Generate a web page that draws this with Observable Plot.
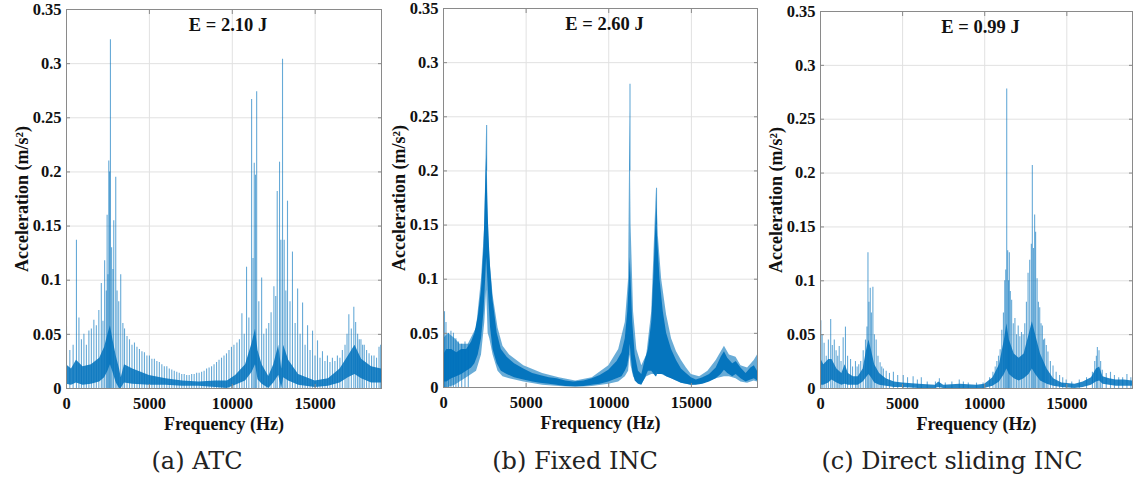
<!DOCTYPE html>
<html><head><meta charset="utf-8">
<script src="https://cdn.jsdelivr.net/npm/d3@7"></script>
<script src="https://cdn.jsdelivr.net/npm/@observablehq/plot@0.6"></script>
<style>
body{margin:0;background:#fff;}
#fig{position:relative;width:1133px;height:480px;overflow:hidden;background:#fff;}
.panel{position:absolute;top:0;}
.cap{position:absolute;top:448px;font-family:'DejaVu Serif',serif;font-size:24px;line-height:26px;transform:translateX(-50%);white-space:nowrap;color:#222;}
</style></head><body><div id="fig"></div>
<script>
// ---- axes / text ----
const xTicks = [0, 5000, 10000, 15000];
const yTicks = [0, 0.05, 0.1, 0.15, 0.2, 0.25, 0.3, 0.35];
const titles = ["E = 2.10 J", "E = 2.60 J", "E = 0.99 J"];
const captions = ["(a) ATC", "(b) Fixed INC", "(c) Direct sliding INC"];

// ---- (a) ATC : noisy floor band [f, lo, hi] and spikes [f, a] ----
const atcBand = [[0,0.004,0.022],[300,0.003,0.018],[600,0.005,0.026],[1000,0.003,0.02],[1500,0.004,0.022],[2000,0.006,0.028],[2300,0.01,0.038],[2500,0.016,0.05],[2650,0.022,0.058],[2800,0.015,0.045],[3000,0.005,0.03],[3200,0,0.018],[3300,0,0.01],[3500,0.005,0.022],[4000,0.004,0.018],[5000,0.003,0.012],[6000,0.003,0.009],[7000,0.002,0.007],[8000,0.002,0.006],[9000,0.001,0.007],[9700,0,0.007],[10200,0.003,0.012],[10800,0.007,0.022],[11200,0.015,0.042],[11400,0.022,0.055],[11550,0.008,0.035],[11800,0.004,0.022],[12200,0,0.011],[12500,0.005,0.022],[12800,0.012,0.04],[12980,0,0.018],[13100,0.01,0.04],[13400,0.007,0.026],[14000,0.003,0.013],[15000,0.001,0.007],[15800,0.002,0.009],[16500,0.005,0.018],[17000,0.01,0.03],[17400,0.013,0.04],[17800,0.009,0.027],[18400,0.005,0.02],[19000,0.005,0.018]];
const atcSpikes = [[0,0.057],[200,0.035],[400,0.04],[600,0.137],[750,0.065],[900,0.045],[1050,0.05],[1200,0.04],[1350,0.053],[1500,0.055],[1650,0.063],[1800,0.058],[1950,0.072],[2100,0.097],[2200,0.062],[2300,0.118],[2400,0.09],[2450,0.16],[2500,0.105],[2550,0.21],[2600,0.2],[2650,0.322],[2720,0.13],[2800,0.11],[2850,0.155],[2970,0.195],[3050,0.09],[3150,0.08],[3270,0.105],[3400,0.06],[3500,0.055],[3650,0.048],[3800,0.045],[3950,0.04],[4100,0.042],[4250,0.038],[4400,0.036],[4550,0.034],[4700,0.033],[4850,0.03],[5000,0.03],[5150,0.027],[5300,0.027],[5450,0.025],[5600,0.024],[5750,0.022],[5900,0.02],[6050,0.02],[6200,0.018],[6350,0.017],[6500,0.016],[6650,0.015],[6800,0.014],[6950,0.013],[7100,0.013],[7250,0.012],[7400,0.012],[7550,0.013],[7700,0.013],[7850,0.014],[8000,0.014],[8150,0.015],[8300,0.016],[8450,0.018],[8600,0.019],[8750,0.02],[8900,0.022],[9050,0.024],[9200,0.026],[9350,0.028],[9500,0.03],[9650,0.032],[9800,0.035],[9950,0.038],[10100,0.04],[10280,0.042],[10430,0.045],[10580,0.069],[10720,0.05],[10860,0.112],[11000,0.065],[11165,0.267],[11250,0.12],[11325,0.208],[11400,0.197],[11470,0.274],[11600,0.08],[11770,0.102],[11900,0.05],[12050,0.055],[12200,0.06],[12340,0.07],[12510,0.094],[12620,0.085],[12710,0.182],[12850,0.209],[12930,0.137],[13030,0.304],[13130,0.137],[13230,0.09],[13330,0.173],[13480,0.08],[13630,0.126],[13790,0.06],[13940,0.092],[14090,0.05],[14240,0.079],[14390,0.04],[14540,0.058],[14690,0.035],[14840,0.053],[14990,0.03],[15140,0.044],[15290,0.028],[15440,0.034],[15590,0.025],[15740,0.03],[15890,0.024],[16040,0.028],[16190,0.025],[16340,0.03],[16490,0.028],[16640,0.035],[16800,0.04],[16920,0.05],[17030,0.068],[17180,0.055],[17330,0.075],[17440,0.061],[17560,0.05],[17660,0.045],[17760,0.045],[17860,0.04],[17960,0.04],[18100,0.035],[18250,0.032],[18400,0.03],[18550,0.03],[18700,0.028],[18850,0.038],[18950,0.04]];

// ---- (b) Fixed INC : dark band, light band [f, lo, hi], spikes [f, from, to] ----
const fixDark = [[0,0.005,0.03],[200,0.005,0.035],[500,0.008,0.035],[800,0.01,0.032],[1100,0.012,0.035],[1400,0.015,0.035],[1700,0.018,0.042],[1900,0.022,0.05],[2100,0.03,0.065],[2300,0.045,0.09],[2450,0.07,0.13],[2550,0.1,0.185],[2610,0.12,0.215],[2680,0.1,0.17],[2750,0.08,0.14],[2850,0.055,0.11],[3000,0.035,0.08],[3250,0.022,0.05],[3500,0.015,0.035],[3850,0.012,0.028],[4300,0.009,0.022],[4860,0.007,0.017],[5400,0.005,0.013],[5860,0.004,0.011],[6400,0.003,0.009],[6870,0.002,0.008],[7400,0.001,0.006],[7870,0.001,0.005],[8500,0.001,0.006],[9000,0.002,0.008],[9480,0.003,0.011],[10000,0.005,0.016],[10500,0.008,0.024],[10800,0.01,0.032],[11000,0.015,0.045],[11150,0.02,0.07],[11250,0.03,0.1],[11300,0.04,0.12],[11350,0.03,0.1],[11450,0.015,0.06],[11600,0.006,0.03],[11800,0.003,0.015],[12000,0.002,0.012],[12200,0.008,0.025],[12400,0.015,0.035],[12600,0.015,0.06],[12750,0.012,0.11],[12850,0.01,0.15],[12900,0.01,0.166],[12950,0.012,0.14],[13100,0.012,0.1],[13300,0.012,0.07],[13500,0.01,0.05],[13800,0.008,0.035],[14100,0.006,0.025],[14400,0.004,0.017],[14700,0.003,0.013],[15000,0.002,0.009],[15300,0.002,0.007],[15700,0.003,0.009],[16100,0.005,0.012],[16500,0.008,0.018],[16800,0.012,0.028],[17000,0.016,0.033],[17200,0.013,0.027],[17500,0.01,0.022],[17710,0.012,0.024],[18000,0.008,0.018],[18310,0.005,0.013],[18600,0.007,0.018],[18810,0.008,0.02],[19000,0.006,0.015]];
const fixLight = [[0,0,0.045],[300,0,0.05],[700,0.002,0.045],[1000,0.005,0.04],[1500,0.01,0.04],[2000,0.015,0.055],[2300,0.03,0.1],[2500,0.06,0.15],[2610,0.09,0.242],[2700,0.05,0.16],[2800,0.045,0.12],[3000,0.03,0.085],[3300,0.015,0.055],[3600,0.01,0.038],[4000,0.008,0.03],[4860,0.005,0.02],[6000,0.002,0.013],[7000,0.001,0.009],[8000,0,0.006],[9000,0.001,0.009],[10000,0.003,0.02],[10600,0.005,0.035],[11000,0.01,0.06],[11200,0.015,0.1],[11285,0.03,0.255],[11350,0.02,0.15],[11500,0.01,0.07],[11700,0.005,0.035],[12000,0.003,0.02],[12300,0.01,0.03],[12600,0.012,0.07],[12850,0.012,0.17],[12890,0.015,0.184],[13000,0.012,0.14],[13200,0.012,0.1],[13500,0.01,0.067],[13800,0.008,0.045],[14100,0.006,0.033],[14400,0.004,0.025],[14700,0.003,0.018],[15000,0.002,0.012],[15500,0.003,0.01],[16000,0.005,0.015],[16500,0.008,0.025],[17000,0.01,0.038],[17300,0.01,0.03],[17700,0.008,0.028],[18000,0.005,0.02],[18400,0.004,0.018],[18800,0.006,0.025],[19000,0.005,0.03]];
const fixSpikes = [[0,0,0.079],[60,0,0.07],[150,0,0.06],[300,0,0.05],[450,0,0.052],[600,0,0.05],[750,0,0.045],[900,0,0.042],[1100,0,0.04],[1300,0,0.042],[1500,0,0.04],[2610,0.2,0.242],[11285,0.2,0.28],[12890,0.15,0.184]];

// ---- (c) Direct sliding INC : floor band and spikes ----
const dsBand = [[0,0.003,0.028],[200,0.003,0.022],[500,0.005,0.027],[700,0.008,0.027],[1000,0.005,0.018],[1300,0.003,0.014],[1500,0.004,0.022],[1700,0.003,0.014],[2000,0.003,0.011],[2300,0.003,0.011],[2600,0.006,0.018],[2800,0.01,0.035],[2950,0.013,0.045],[3100,0.01,0.036],[3300,0.005,0.022],[3600,0.003,0.014],[4000,0.002,0.009],[4500,0.001,0.006],[5000,0.001,0.005],[6000,0,0.004],[7000,0,0.003],[7200,0.001,0.006],[7500,0,0.003],[8500,0,0.004],[9500,0,0.003],[10000,0,0.004],[10500,0.002,0.01],[10900,0.006,0.022],[11200,0.013,0.045],[11350,0.018,0.06],[11500,0.013,0.045],[11800,0.009,0.032],[12100,0.007,0.028],[12400,0.009,0.032],[12700,0.013,0.05],[12900,0.018,0.062],[13100,0.013,0.05],[13400,0.007,0.032],[13800,0.004,0.018],[14200,0.002,0.009],[14700,0.001,0.005],[15500,0,0.004],[16000,0.001,0.006],[16500,0.003,0.01],[16800,0.006,0.018],[17000,0.007,0.02],[17200,0.004,0.011],[17600,0.003,0.009],[18000,0.002,0.008],[18500,0.002,0.008],[19000,0.002,0.007]];
const dsSpikes = [[20,0.063],[100,0.05],[220,0.042],[350,0.03],[480,0.045],[620,0.064],[720,0.04],[840,0.045],[950,0.035],[1050,0.03],[1140,0.039],[1250,0.025],[1380,0.047],[1520,0.057],[1650,0.03],[1830,0.027],[1950,0.02],[2130,0.025],[2230,0.02],[2330,0.022],[2450,0.025],[2600,0.035],[2740,0.045],[2830,0.057],[2890,0.126],[2950,0.08],[3030,0.093],[3100,0.07],[3190,0.094],[3280,0.05],[3390,0.045],[3500,0.03],[3630,0.024],[3730,0.02],[3830,0.018],[4000,0.016],[4200,0.014],[4440,0.015],[4700,0.012],[5040,0.012],[5300,0.01],[5640,0.011],[5900,0.008],[6140,0.01],[6500,0.006],[7000,0.006],[7240,0.009],[7600,0.005],[8000,0.006],[8450,0.008],[8700,0.006],[9000,0.005],[9500,0.005],[9900,0.005],[10300,0.01],[10500,0.015],[10640,0.02],[10740,0.025],[10840,0.03],[10940,0.036],[11040,0.054],[11140,0.07],[11220,0.1],[11280,0.11],[11340,0.278],[11400,0.128],[11450,0.1],[11500,0.126],[11560,0.09],[11640,0.082],[11740,0.06],[11840,0.065],[11940,0.05],[12040,0.058],[12140,0.048],[12240,0.052],[12340,0.05],[12440,0.06],[12540,0.08],[12640,0.107],[12740,0.119],[12840,0.134],[12900,0.207],[12970,0.13],[13040,0.161],[13100,0.145],[13190,0.102],[13270,0.08],[13350,0.075],[13430,0.06],[13510,0.058],[13580,0.045],[13650,0.046],[13750,0.04],[13850,0.034],[14000,0.025],[14160,0.021],[14350,0.015],[14560,0.012],[14750,0.01],[14960,0.008],[15300,0.006],[15760,0.008],[16200,0.01],[16560,0.015],[16700,0.025],[16800,0.03],[16860,0.038],[16960,0.035],[17060,0.025],[17160,0.017],[17400,0.014],[17660,0.015],[17900,0.012],[18160,0.01],[18400,0.01],[18660,0.013],[18900,0.01]];

// ---- drawing ----
const BLUE = "#0072BD", LIGHT = "#4f9dd0", FRAME = "#8a8a8a", GRID = "#e1e1e1";
const FONT = "'Liberation Serif','Times New Roman',serif";

function bandMark(data, fill, opacity) {
  return Plot.areaY(data, {x: d => d[0], y1: d => d[1], y2: d => d[2], fill, fillOpacity: opacity, clip: true});
}
function spikeMark(data, opacity, w) {
  return Plot.ruleX(data, {x: d => d[0], y1: d => d.length > 2 ? d[1] : 0, y2: d => d[d.length - 1],
    stroke: BLUE, strokeOpacity: opacity, strokeWidth: w, clip: true});
}

const panels = [
  {left: 0, width: 390, mL: 66, mR: 9, mT: 9, mB: 52,
   marks: [bandMark(atcBand, BLUE, 0.85), spikeMark(atcSpikes, 0.6, 1.1)]},
  {left: 378, width: 380, mL: 65, mR: 1, mT: 8, mB: 53,
   marks: [bandMark(fixLight, LIGHT, 0.85), bandMark(fixDark, BLUE, 0.95), spikeMark(fixSpikes, 0.6, 1.1)]},
  {left: 756, width: 377, mL: 64, mR: 1, mT: 11, mB: 52,
   marks: [bandMark(dsBand, BLUE, 0.85), spikeMark(dsSpikes, 0.6, 1.1)]}
];

const fig = document.getElementById("fig");
panels.forEach((p, i) => {
  const svg = Plot.plot({
    width: p.width, height: 440,
    marginLeft: p.mL, marginRight: p.mR, marginTop: p.mT, marginBottom: p.mB,
    x: {domain: [0, 19000]},
    y: {domain: [0, 0.35]},
    style: `font-family:${FONT};font-size:16px;font-weight:bold;color:#111;background:transparent;overflow:visible;`,
    marks: [
      Plot.gridX(xTicks, {stroke: GRID, strokeOpacity: 1}),
      Plot.gridY(yTicks, {stroke: GRID, strokeOpacity: 1}),
      ...p.marks,
      Plot.frame({stroke: FRAME}),
      Plot.axisX(xTicks, {anchor: "bottom", tickSize: -4, stroke: FRAME, text: null, label: null}),
      Plot.axisX(xTicks, {anchor: "top", tickSize: -4, stroke: FRAME, text: null, label: null}),
      Plot.axisY(yTicks, {anchor: "left", tickSize: -4, stroke: FRAME, text: null, label: null}),
      Plot.axisY(yTicks, {anchor: "right", tickSize: -4, stroke: FRAME, text: null, label: null}),
      Plot.axisX(xTicks, {anchor: "bottom", tickSize: 0, tickPadding: 9, tickFormat: d3.format("d"),
        label: null, fontFamily: FONT, fontSize: 16.5, fontWeight: "bold"}),
      Plot.axisY(yTicks, {anchor: "left", tickSize: 0, tickPadding: 5, tickFormat: d3.format("~g"),
        label: null, fontFamily: FONT, fontSize: 16.5, fontWeight: "bold"}),
      Plot.axisX({anchor: "bottom", ticks: [], label: "Frequency (Hz)", labelAnchor: "center", labelOffset: 41,
        labelArrow: false, fontFamily: FONT, fontSize: 18, fontWeight: "bold"}),
      Plot.axisY({anchor: "left", ticks: [], label: "Acceleration (m/s²)", labelAnchor: "center", labelOffset: 51,
        labelArrow: false, fontFamily: FONT, fontSize: 18, fontWeight: "bold"}),
      Plot.text([titles[i]], {frameAnchor: "top", dx: 4, dy: 8, lineAnchor: "top",
        fontFamily: FONT, fontSize: 18.5, fontWeight: "bold", fill: "#111"})
    ]
  });
  svg.classList.add("panel");
  svg.style.left = p.left + "px";
  svg.style.position = "absolute";
  svg.style.top = "0px";
  fig.appendChild(svg);
});
const capX = [197, 575, 952];
captions.forEach((c, i) => {
  const d = document.createElement("div");
  d.className = "cap";
  d.style.left = capX[i] + "px";
  d.textContent = c;
  fig.appendChild(d);
});
</script>
</body></html>
